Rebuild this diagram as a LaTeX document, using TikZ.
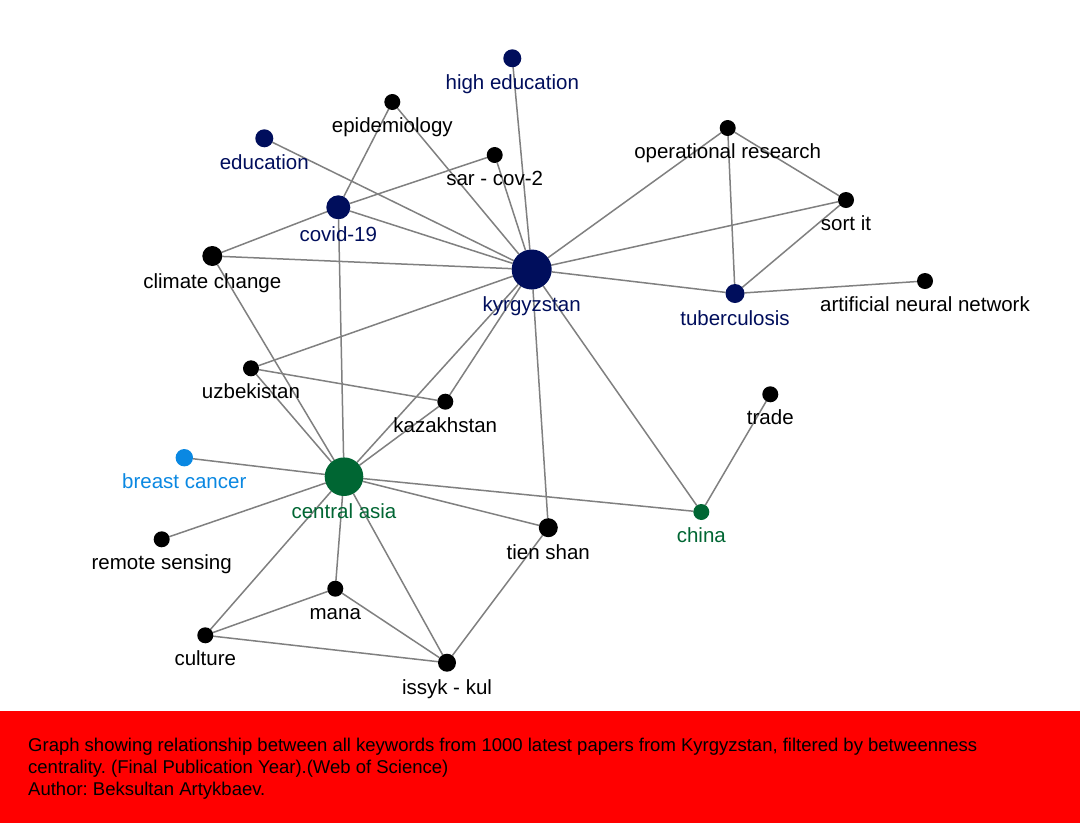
\documentclass[tikz,border=0pt]{standalone}
\usepackage{fontspec}
\setmainfont{Liberation Sans}
\usetikzlibrary{backgrounds}
\frenchspacing
\definecolor{navy}{RGB}{0,14,92}
\definecolor{dgreen}{RGB}{0,102,51}
\definecolor{skyb}{RGB}{10,136,226}
\definecolor{edgegray}{RGB}{128,128,128}
\newcommand\kwnd[6]{%
  \node[kwnode,fill=#5,minimum size=2*#4pt] (#1) at (#2,-#3) {};
  \node[kwlbl,text=#5] (#1-l) at (#2,{-#3-#4-22.3}) {#6};}
\begin{document}
\begin{tikzpicture}[x=1pt,y=1pt,
  kwnode/.style={circle,inner sep=0pt,outer sep=0pt,draw=none},
  kwlbl/.style={anchor=base,inner sep=0pt,font=\fontsize{20.5}{24}\selectfont},
  edge/.style={draw=edgegray,line width=1.5pt},
  capt/.style={anchor=base west,inner sep=0pt,font=\fontsize{18.5}{22}\selectfont,text=black}]
\useasboundingbox (0,0) rectangle (1080,-823);
\fill[red] (0,-711) rectangle (1080,-823);

\kwnd{kyr}{531.7}{269.5}{20}{navy}{kyrgyzstan}
\kwnd{hied}{512.3}{58.3}{9}{navy}{high education}
\kwnd{epi}{392.3}{102}{8}{black}{epidemiology}
\kwnd{edu}{264.3}{138.3}{9}{navy}{education}
\kwnd{sar}{494.7}{155}{8}{black}{sar - cov-2}
\kwnd{cov}{338.3}{207.3}{12}{navy}{covid-19}
\kwnd{clim}{212.3}{256}{10}{black}{climate change}
\kwnd{opr}{727.7}{128}{8}{black}{operational research}
\kwnd{sort}{846}{200}{8}{black}{sort it}
\kwnd{tub}{735}{293.5}{9.5}{navy}{tuberculosis}
\kwnd{ann}{925}{281}{8}{black}{artificial neural network}
\kwnd{uzb}{251}{368.3}{8}{black}{uzbekistan}
\kwnd{kaz}{445.3}{401.7}{8}{black}{kazakhstan}
\kwnd{trade}{770.3}{394.3}{8}{black}{trade}
\kwnd{bc}{184.3}{457.7}{8.7}{skyb}{breast cancer}
\kwnd{ca}{344}{476.7}{19.3}{dgreen}{central asia}
\kwnd{china}{701.3}{512}{8}{dgreen}{china}
\kwnd{rs}{161.7}{539.3}{8}{black}{remote sensing}
\kwnd{tien}{548.3}{527.7}{9.5}{black}{tien shan}
\kwnd{mana}{335.3}{588.7}{8}{black}{mana}
\kwnd{cult}{205.3}{635.3}{8}{black}{culture}
\kwnd{issyk}{447}{662.7}{9}{black}{issyk - kul}

\begin{pgfonlayer}{background}
\fill[white] (0,0) rectangle (1080,-711);
\foreach \a/\b in {kyr/hied,kyr/epi,kyr/edu,kyr/sar,kyr/cov,kyr/clim,kyr/opr,kyr/sort,kyr/tub,kyr/uzb,kyr/kaz,kyr/ca,kyr/tien,kyr/china,
  cov/sar,cov/epi,cov/clim,cov/ca,
  opr/sort,opr/tub,sort/tub,tub/ann,
  uzb/kaz,uzb/ca,clim/ca,kaz/ca,
  ca/bc,ca/rs,ca/cult,ca/mana,ca/issyk,ca/tien,ca/china,
  tien/issyk,china/trade,mana/cult,mana/issyk,cult/issyk}
  \draw[edge] (\a) -- (\b);
\end{pgfonlayer}

\node[capt] (cap1) at (28,-751.5) {Graph showing relationship between all keywords from 1000 latest papers from Kyrgyzstan, filtered by betweenness};
\node[capt] (cap2) at (28,-773.3) {centrality. (Final Publication Year).(Web of Science)};
\node[capt] (cap3) at (28,-795) {Author: Beksultan Artykbaev.};
\end{tikzpicture}
\end{document}
